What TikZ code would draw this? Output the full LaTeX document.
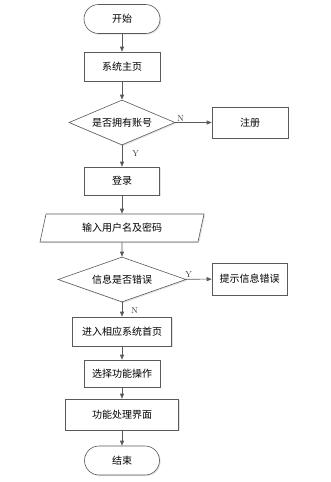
\documentclass[tikz,border=0pt]{standalone}
\usepackage{fontspec}
\newfontfamily\cjk{Noto Sans CJK SC}
\usetikzlibrary{arrows.meta, shapes.geometric, shadows}

\begin{document}
\begin{tikzpicture}[x=1pt, y=-1pt,
  base/.style={draw=black!65, line width=0.6pt, fill=white, inner sep=1pt,
    font=\cjk\fontsize{10}{12}\selectfont,
    drop shadow={shadow xshift=1.2pt, shadow yshift=-1.2pt, fill=black!22}},
  term/.style={base, rectangle, rounded corners=14.5pt, minimum width=76pt, minimum height=29pt},
  proc/.style={base, rectangle, minimum width=76pt, minimum height=29pt},
  decide/.style={base, diamond, aspect=2.4, minimum width=106pt, minimum height=45pt},
  io/.style={base, trapezium, trapezium left angle=62, trapezium right angle=118,
    trapezium stretches body, minimum width=164pt, minimum height=28pt},
  flow/.style={draw=black!65, line width=0.6pt, -{Triangle[length=5pt,width=4pt]}},
  lbl/.style={font=\fontsize{8.5}{9}\selectfont, inner sep=1pt, text=black!80}]
\useasboundingbox (0,0) rectangle (331,482);

\node[term] (start) at (122,19) {开始};
\node[proc] (home) at (122,66.5) {系统主页};
\node[decide] (hasacct) at (122,122.5) {是否拥有账号};
\node[proc, minimum height=31pt] (reg) at (250,122.5) {注册};
\node[proc, minimum width=75pt, minimum height=28pt] (login) at (122,181) {登录};
\node[io] (input) at (122,228) {输入用户名及密码};
\node[decide, minimum width=128pt] (infoerr) at (122,279.5) {信息是否错误};
\node[proc, minimum width=75pt, minimum height=32pt] (tip) at (249.5,279) {提示信息错误};
\node[proc, minimum width=99pt] (enter) at (122,331.5) {进入相应系统首页};
\node[proc, minimum height=27pt] (choose) at (122,373.5) {选择功能操作};
\node[proc, minimum width=113pt, minimum height=31pt] (func) at (122,414.5) {功能处理界面};
\node[term, minimum width=75pt] (stop) at (122,460.5) {结束};

\draw[flow] (start) -- (home);
\draw[flow] (home) -- (hasacct);
\draw[flow] (hasacct) -- node[lbl, above, pos=0.15] (ln1) {N} (reg);
\draw[flow] (hasacct) -- node[lbl, right, pos=0.4, xshift=9pt] (ly1) {Y} (login);
\draw[flow] (login) -- (input);
\draw[flow] (input) -- (infoerr);
\draw[flow] (infoerr) -- node[lbl, above, pos=0.12] (ly2) {Y} (tip);
\draw[flow] (infoerr) -- node[lbl, right, pos=0.55, xshift=8pt] (ln2) {N} (enter);
\draw[flow] (enter) -- (choose);
\draw[flow] (choose) -- (func);
\draw[flow] (func) -- (stop);
\end{tikzpicture}
\end{document}
